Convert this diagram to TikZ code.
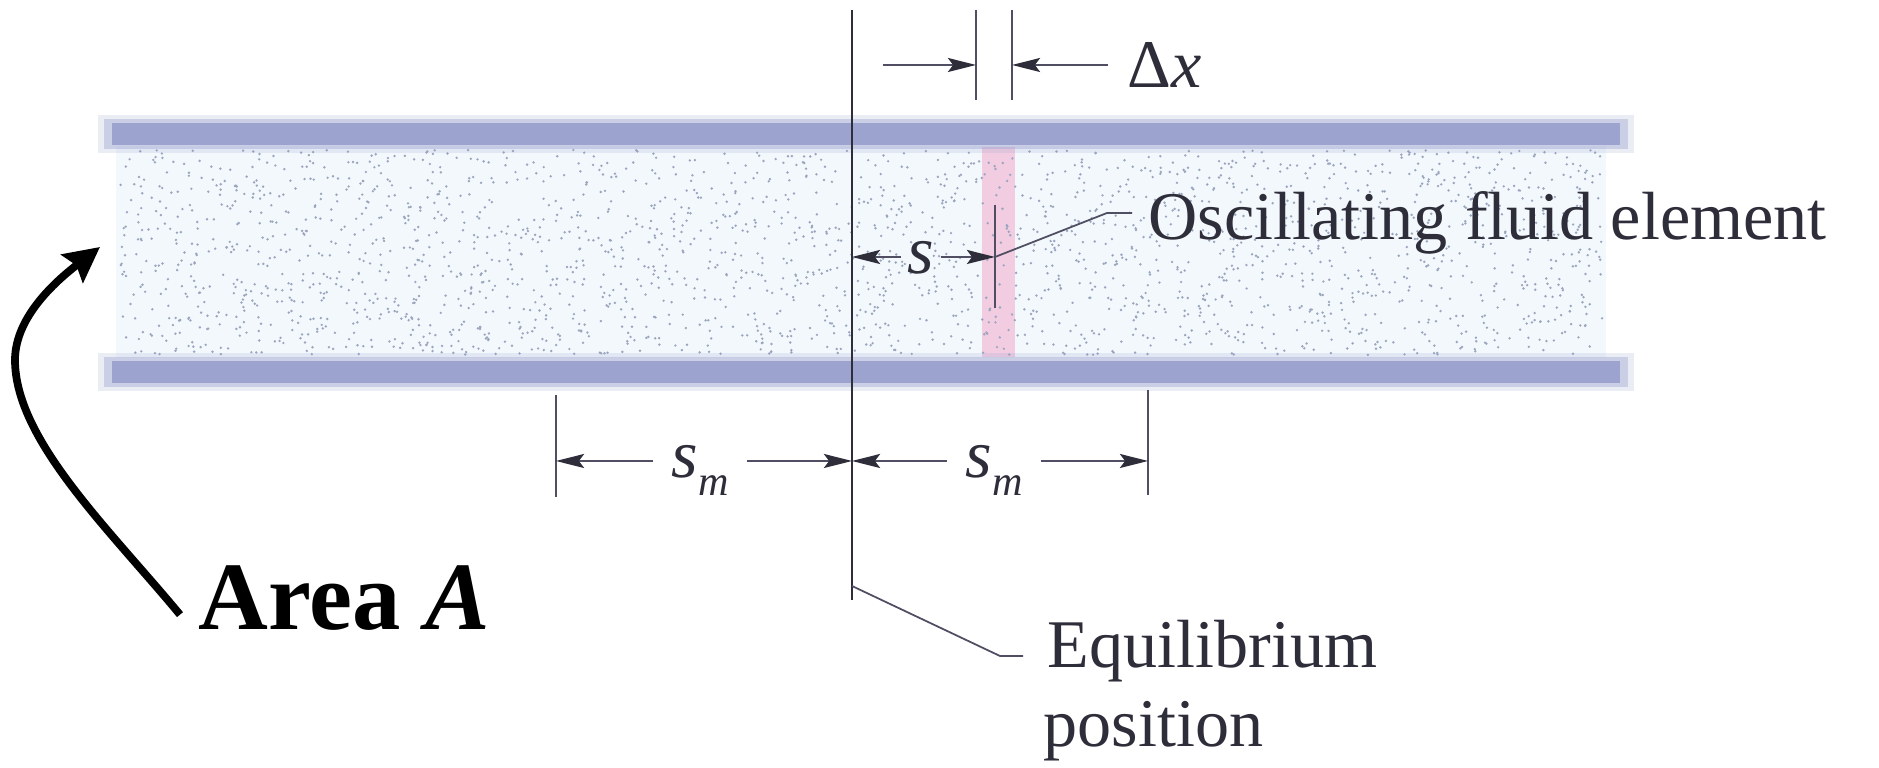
\documentclass[tikz,border=0pt]{standalone}
\usepackage{fontspec}
\setmainfont{Liberation Serif}
\usetikzlibrary{arrows.meta,calc}
\definecolor{tubeband}{HTML}{9CA3CF}
\definecolor{fluidbg}{HTML}{F3F8FC}
\definecolor{fluiddot}{HTML}{9AA5BE}
\definecolor{elempink}{HTML}{F2CCE1}
\definecolor{inkdark}{HTML}{2E2D3A}
\definecolor{inkgrey}{HTML}{4F4E62}
\newcommand{\lowsub}[1]{\raisebox{-0.6ex}{\fontsize{12}{12}\selectfont\itshape #1}}

\tikzset{
  dimarrow/.style={draw=inkgrey, line width=0.6pt, -{Stealth[length=8pt,width=4pt,inset=1.5pt,color=inkdark]}},
  guide/.style={draw=inkgrey, line width=0.55pt},
  leader/.style={draw=inkgrey, line width=0.5pt},
  bigarrow/.style={draw=black, line width=2.2pt, -{Stealth[length=10pt,width=10pt,inset=1.5pt]}},
}

\begin{document}
\begin{tikzpicture}[x=0.1mm, y=-0.1mm, every node/.style={font=\fontsize{19.4}{22.5}\selectfont, text=inkdark, inner sep=0pt}]
  \useasboundingbox (0,0) rectangle (1879,768);
  % fluid in the tube
  \fill[fluidbg] (116,146) rectangle (1606,358);
  % oscillating element
  \fill[elempink] (982,147) rectangle (1015,357);
  \pgfmathsetseed{42}
  \foreach \k in {1,...,2400}
    \fill[fluiddot] ({120+1482*rnd},{150+205*rnd}) circle (0.38pt);
  % tube walls (soft edges)
  \foreach \yt in {120,358} {
    \fill[tubeband, opacity=0.2] (98,\yt-5) rectangle (1634,\yt+33);
    \fill[tubeband, opacity=0.4] (104,\yt-1) rectangle (1628,\yt+29);
    \fill[tubeband] (112,\yt+3) rectangle (1620,\yt+25);
  }
  % equilibrium line
  \coordinate (eqtop) at (852,10);
  \coordinate (eqbot) at (852,600);
  \draw[inkdark, line width=0.8pt] (eqtop) -- (eqbot);
  % delta x
  \coordinate (dxLtop) at (976,10); \coordinate (dxLbot) at (976,100);
  \coordinate (dxRtop) at (1012,10); \coordinate (dxRbot) at (1012,100);
  \draw[guide] (dxLtop) -- (dxLbot);
  \draw[guide] (dxRtop) -- (dxRbot);
  \node[anchor=west] (dx) at (1127,65) {Δ\textit{x}};
  \coordinate (dxtail) at (883,65);
  \draw[dimarrow] (dxtail) -- (dxLtop |- dxtail);
  \draw[dimarrow, shorten <=5.5pt] (dx.west) -- (dxRtop |- dx.west);
  % displacement s
  \coordinate (elemtop) at (995,205); \coordinate (elembot) at (995,308);
  \draw[guide] (elemtop) -- (elembot);
  \node[inner xsep=1.7pt, text depth=0pt] (s) at (921,257) {\textit{s}};
  \draw[dimarrow] (s.west) -- (eqtop |- s.west);
  \draw[dimarrow] (s.east) -- (elemtop |- s.east);
  \node[anchor=base west] (osc) at (1148,240) {Oscillating fluid element};
  \coordinate (oscknee) at (1107,213);
  \draw[leader, shorten >=4.5pt] (elemtop |- s.east) -- (oscknee) -- (osc.west |- oscknee);
  % amplitude s_m
  \coordinate (smLtop) at (556,395); \coordinate (smLbot) at (556,497);
  \coordinate (smRtop) at (1148,390); \coordinate (smRbot) at (1148,495);
  \draw[guide] (smLtop) -- (smLbot);
  \draw[guide] (smRtop) -- (smRbot);
  \node[inner xsep=5pt, text depth=0pt] (smL) at (700,461) {\textit{s}\lowsub{m}};
  \node[inner xsep=5pt, text depth=0pt] (smR) at (994,461) {\textit{s}\lowsub{m}};
  \draw[dimarrow] (smL.west) -- (smLtop |- smL.west);
  \draw[dimarrow] (smL.east) -- (eqtop |- smL.east);
  \draw[dimarrow] (smR.west) -- (eqtop |- smR.west);
  \draw[dimarrow] (smR.east) -- (smRtop |- smR.east);
  % equilibrium label
  \node[anchor=base west] (eqlab) at (1047,668) {Equilibrium};
  \node[anchor=base west] (poslab) at (1043,747) {position};
  \coordinate (eqfoot) at (852,586);
  \coordinate (eqknee) at (1000,656);
  \draw[leader, shorten >=6.8pt] (eqfoot) -- (eqknee) -- (eqlab.west |- eqknee);
  % area A
  \node[font=\fontsize{27.5}{30}\selectfont\bfseries, text=black, anchor=base west] (area) at (198,630) {Area \textit{A}};
  \coordinate (curvetip) at (100,247);
  \draw[bigarrow] ($(area.south west)+(-18,-17)$) .. controls (110,530) and (15,440) .. (15,360)
    .. controls (15,315) and (60,278) .. (curvetip);
\end{tikzpicture}
\end{document}
